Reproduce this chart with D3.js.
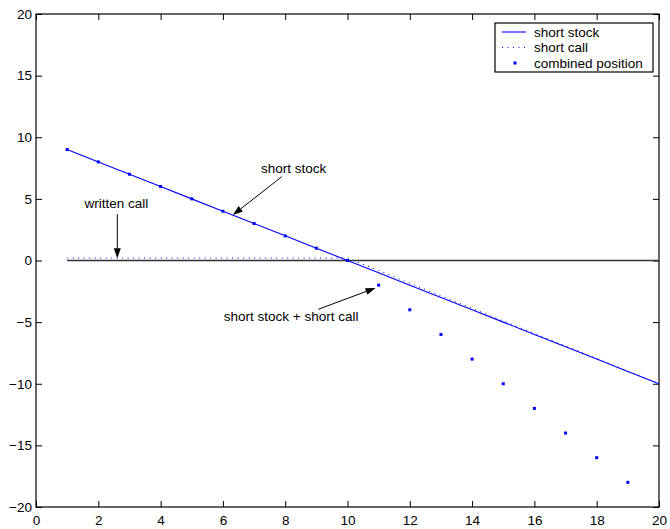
<!DOCTYPE html>
<html>
<head>
<meta charset="utf-8">
<script src="https://cdn.jsdelivr.net/npm/d3@7"></script>
<style>
  body { margin: 0; background: #fff; }
  svg { display: block; font-family: "Liberation Sans", Arial, Helvetica, sans-serif; }
</style>
</head>
<body>
<svg id="chart"></svg>
<script>
// underlying prices
const stockX = [1, 2, 3, 4, 5, 6, 7, 8, 9, 10, 11, 12, 13, 14, 15, 16, 17, 18, 19, 20];
const stockY = [9, 8, 7, 6, 5, 4, 3, 2, 1, 0, -1, -2, -3, -4, -5, -6, -7, -8, -9, -10];
const callY = [0.2, 0.2, 0.2, 0.2, 0.2, 0.2, 0.2, 0.2, 0.2, 0.2,
  -0.82, -1.84, -2.86, -3.88, -4.9, -5.92, -6.94, -7.96, -8.98, -10];
const combinedX = [1, 2, 3, 4, 5, 6, 7, 8, 9, 10, 11, 12, 13, 14, 15, 16, 17, 18, 19];
const combinedY = [9, 8, 7, 6, 5, 4, 3, 2, 1, 0, -2, -4, -6, -8, -10, -12, -14, -16, -18];
const zeroLineX = [1, 20];
const xTicks = [0, 2, 4, 6, 8, 10, 12, 14, 16, 18, 20];
const yTicks = [-20, -15, -10, -5, 0, 5, 10, 15, 20];
const legendLabels = ['short stock', 'short call', 'combined position'];
// annotations: [label, textX, textY, fromX, fromY, toX, toY] in data units
const notes = [
  ['short stock', 8.27, 7.1, 7.89, 6.8, 6.32, 3.69],
  ['written call', 2.58, 4.28, 2.61, 3.77, 2.61, 0.18],
  ['short stock + short call', 8.19, -4.91, 9.06, -3.96, 10.9, -2.23]
];

(function() {
  const dim = { w: 670, h: 529, l: 36, r: 659, t: 14, b: 507 },
    fs = 13.5,
    blue = '#0000ff',
    $svg = d3.select('#chart').attr('width', dim.w).attr('height', dim.h);

  const xScale = d3.scaleLinear().domain([0, 20]).range([dim.l, dim.r]),
    yScale = d3.scaleLinear().domain([-20, 20]).range([dim.b, dim.t]);

  // axes box with inward ticks on all four sides
  const styleAxis = (g) => {
    g.selectAll('path.domain').remove();
    g.selectAll('line').attr('stroke', '#000');
    g.selectAll('text').attr('font-size', fs).attr('fill', '#000').attr('font-family', null);
  };
  $svg.append('g').attr('transform', 'translate(0,' + dim.b + ')')
    .call(d3.axisBottom(xScale).tickValues(xTicks).tickSize(-6).tickSizeOuter(0).tickPadding(8).tickFormat(d3.format('d')))
    .call(styleAxis);
  $svg.append('g').attr('transform', 'translate(0,' + dim.t + ')')
    .call(d3.axisTop(xScale).tickValues(xTicks).tickSize(-6).tickSizeOuter(0).tickFormat(''))
    .call(styleAxis);
  $svg.append('g').attr('transform', 'translate(' + dim.l + ',0)')
    .call(d3.axisLeft(yScale).tickValues(yTicks).tickSize(-6).tickSizeOuter(0).tickPadding(4).tickFormat(d3.format('d')))
    .call(styleAxis);
  $svg.append('g').attr('transform', 'translate(' + dim.r + ',0)')
    .call(d3.axisRight(yScale).tickValues(yTicks).tickSize(-6).tickSizeOuter(0).tickFormat(''))
    .call(styleAxis);
  $svg.append('rect')
    .attr('x', dim.l).attr('y', dim.t)
    .attr('width', dim.r - dim.l).attr('height', dim.b - dim.t)
    .attr('fill', 'none').attr('stroke', '#000').attr('stroke-width', 1.2);

  const line = d3.line().x((d) => xScale(d[0])).y((d) => yScale(d[1]));

  // zero line
  $svg.append('path')
    .attr('d', line(zeroLineX.map((x) => [x, 0])))
    .attr('stroke', '#333').attr('stroke-width', 1.3).attr('fill', 'none');

  // short call (dotted)
  $svg.append('path')
    .attr('d', line(stockX.map((x, i) => [x, callY[i]])))
    .attr('stroke', blue).attr('stroke-width', 1).attr('stroke-dasharray', '1,4.5').attr('fill', 'none');

  // short stock
  $svg.append('path')
    .attr('d', line(stockX.map((x, i) => [x, stockY[i]])))
    .attr('stroke', blue).attr('stroke-width', 1.1).attr('fill', 'none');

  // combined position dots
  $svg.append('g').selectAll('rect')
    .data(combinedX.map((x, i) => [x, combinedY[i]]))
    .enter()
    .append('rect')
    .attr('x', (d) => xScale(d[0]) - 1.5)
    .attr('y', (d) => yScale(d[1]) - 1.5)
    .attr('width', 3).attr('height', 3)
    .attr('fill', blue);

  // annotations with arrows
  const $notes = $svg.append('g');
  notes.forEach((n) => {
    const x1 = xScale(n[3]), y1 = yScale(n[4]), x2 = xScale(n[5]), y2 = yScale(n[6]),
      ang = Math.atan2(y2 - y1, x2 - x1),
      len = 10, hw = 3.5,
      bx = x2 - len * Math.cos(ang), by = y2 - len * Math.sin(ang);
    $notes.append('text')
      .attr('x', xScale(n[1])).attr('y', yScale(n[2]))
      .attr('text-anchor', 'middle').attr('font-size', fs).attr('fill', '#000')
      .text(n[0]);
    $notes.append('line')
      .attr('x1', x1).attr('y1', y1).attr('x2', bx).attr('y2', by)
      .attr('stroke', '#000').attr('stroke-width', 1);
    $notes.append('path')
      .attr('d', 'M' + x2 + ',' + y2 +
        'L' + (bx + hw * Math.sin(ang)) + ',' + (by - hw * Math.cos(ang)) +
        'L' + (bx - hw * Math.sin(ang)) + ',' + (by + hw * Math.cos(ang)) + 'Z')
      .attr('fill', '#000');
  });

  // legend
  const $legend = $svg.append('g').attr('transform', 'translate(495,23)');
  $legend.append('rect')
    .attr('width', 158).attr('height', 49)
    .attr('fill', '#fff').attr('stroke', '#000').attr('stroke-width', 1.2);
  const rowY = (i) => 9 + 15.5 * i;
  $legend.selectAll('text')
    .data(legendLabels)
    .enter()
    .append('text')
    .attr('x', 39)
    .attr('y', (d, i) => rowY(i))
    .attr('dy', '0.35em')
    .attr('font-size', fs)
    .text((d) => d);
  $legend.append('line')
    .attr('x1', 7).attr('x2', 31).attr('y1', rowY(0)).attr('y2', rowY(0))
    .attr('stroke', blue).attr('stroke-width', 1.1);
  $legend.append('line')
    .attr('x1', 7).attr('x2', 31).attr('y1', rowY(1)).attr('y2', rowY(1))
    .attr('stroke', blue).attr('stroke-width', 1).attr('stroke-dasharray', '1,4.5');
  $legend.append('rect')
    .attr('x', 18.5).attr('y', rowY(2) - 1.5)
    .attr('width', 3).attr('height', 3)
    .attr('fill', blue);
})();
</script>
</body>
</html>
